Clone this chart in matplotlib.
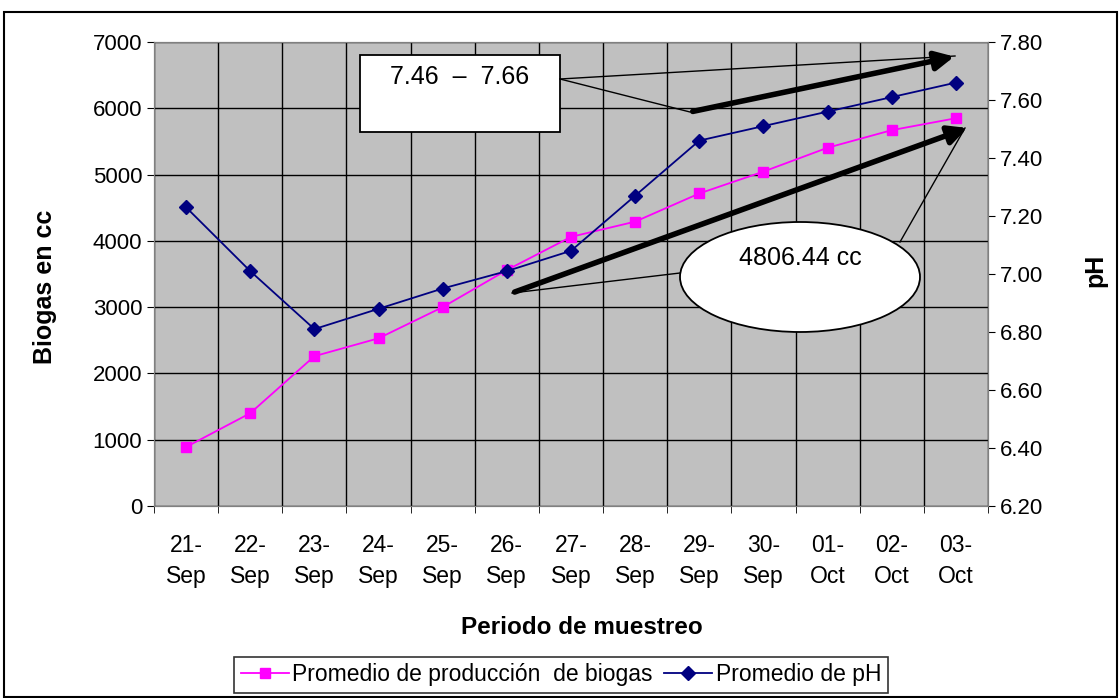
import numpy as np
import matplotlib
matplotlib.use("Agg")
import matplotlib.pyplot as plt
from matplotlib.patches import Rectangle, Ellipse, FancyArrowPatch
from matplotlib.ticker import FormatStrFormatter

plt.rcParams["font.family"] = ["Liberation Sans", "DejaVu Sans"]

fechas = ["21-\nSep", "22-\nSep", "23-\nSep", "24-\nSep", "25-\nSep", "26-\nSep",
          "27-\nSep", "28-\nSep", "29-\nSep", "30-\nSep", "01-\nOct", "02-\nOct", "03-\nOct"]

biogas = [890, 1400, 2260, 2530, 3000, 3560, 4060, 4290, 4715, 5045, 5405, 5670, 5850]
ph = [7.23, 7.01, 6.81, 6.88, 6.95, 7.01, 7.08, 7.27, 7.46, 7.51, 7.56, 7.61, 7.66]

W, H = 1119, 698
fig = plt.figure(figsize=(W / 100, H / 100), dpi=100)

# plot area in pixels: left 154, right 988, top 42, bottom 506
ax = fig.add_axes([154 / W, (H - 506) / H, 834 / W, 464 / H])
ax.set_facecolor("#C0C0C0")
x = np.arange(len(fechas))

l1, = ax.plot(x, biogas, color="#FF00FF", marker="s", markersize=7,
              linewidth=1.3, label="Promedio de producción  de biogas")
ax.set_xlim(-0.5, len(fechas) - 0.5)
ax.set_ylim(0, 7000)
ax.set_yticks(np.arange(0, 7001, 1000))
ax.set_xticks(x)
ax.set_xticklabels(fechas, fontsize=16.5, linespacing=1.45)
ax.set_xticks(np.arange(-0.5, len(fechas), 1), minor=True)
ax.tick_params(axis="x", which="major", length=0, pad=20)
ax.tick_params(axis="x", which="minor", length=5, direction="out")
ax.tick_params(axis="y", labelsize=16, length=5, direction="out")
ax.grid(True, which="minor", axis="x", color="black", linewidth=1)
ax.grid(True, which="major", axis="y", color="black", linewidth=1)
ax.set_axisbelow(True)
for s in ax.spines.values():
    s.set_color("#808080")

ax2 = ax.twinx()
l2, = ax2.plot(x, ph, color="#000080", marker="D", markersize=7,
               linewidth=1.3, label="Promedio de pH")
ax2.set_ylim(6.2, 7.8)
ax2.set_yticks(np.arange(6.2, 7.81, 0.2))
ax2.yaxis.set_major_formatter(FormatStrFormatter("%.2f"))
ax2.tick_params(axis="y", labelsize=16, length=5, direction="out")
for s in ax2.spines.values():
    s.set_color("#808080")

# axis titles
fig.text(45 / W, (H - 287) / H, "Biogas en cc", rotation=90, fontsize=18,
         fontweight="bold", ha="center", va="center")
fig.text(582 / W, (H - 628) / H, "Periodo de muestreo", fontsize=17.5,
         fontweight="bold", ha="center", va="center")
fig.text(1095 / W, (H - 270) / H, "pH", rotation=90, fontsize=18,
         fontweight="bold", ha="center", va="center")


def fx(px):
    return (px - 154) / 834


def fy(py):
    return (506 - py) / 464


tr = ax2.transAxes

# box 7.46 - 7.66
ax2.add_patch(Rectangle((fx(360), fy(132)), fx(560) - fx(360), fy(55) - fy(132),
                        transform=tr, facecolor="white", edgecolor="black",
                        linewidth=1.3, zorder=5, clip_on=False))
ax2.text(fx(460), fy(77), "7.46  \u2013  7.66", transform=tr, fontsize=18,
         ha="center", va="center", zorder=6)
ax2.plot([fx(560), fx(955)], [fy(79), fy(56)], color="black", lw=1, transform=tr, zorder=5)
ax2.plot([fx(560), fx(690)], [fy(79), fy(112)], color="black", lw=1, transform=tr, zorder=5)
ax2.add_patch(FancyArrowPatch((fx(690), fy(112)), (fx(957), fy(56)), transform=tr,
                              arrowstyle="-|>", mutation_scale=28, lw=4,
                              color="black", zorder=5, clip_on=False))

# ellipse 4806.44 cc
ax2.plot([fx(680), fx(512)], [fy(273), fy(293)], color="black", lw=1, transform=tr, zorder=5)
ax2.plot([fx(900), fx(965)], [fy(242), fy(128)], color="black", lw=1, transform=tr, zorder=5)
ax2.add_patch(FancyArrowPatch((fx(512), fy(293)), (fx(970), fy(127)), transform=tr,
                              arrowstyle="-|>", mutation_scale=28, lw=4,
                              color="black", zorder=5, clip_on=False))
ax2.add_patch(Ellipse((fx(800), fy(277)), fx(920) - fx(680), fy(222) - fy(332),
                      transform=tr, facecolor="white", edgecolor="black",
                      linewidth=1.3, zorder=6))
ax2.text(fx(800), fy(258), "4806.44 cc", transform=tr, fontsize=18,
         ha="center", va="center", zorder=7)

leg = fig.legend(handles=[l1, l2], loc="center", bbox_to_anchor=(561 / W, (H - 675) / H),
                 ncol=2, fontsize=16.5, frameon=True, fancybox=False, edgecolor="black",
                 handlelength=2.1, columnspacing=0.5, handletextpad=0.15, borderpad=0.3)
leg.get_frame().set_linewidth(1.2)

# outer border of the chart
fig.add_artist(Rectangle((4 / W, 1 / H), 1113 / W, (H - 13) / H, transform=fig.transFigure,
                         facecolor="none", edgecolor="black", linewidth=1.5))

fig.savefig("out.png", dpi=100)
